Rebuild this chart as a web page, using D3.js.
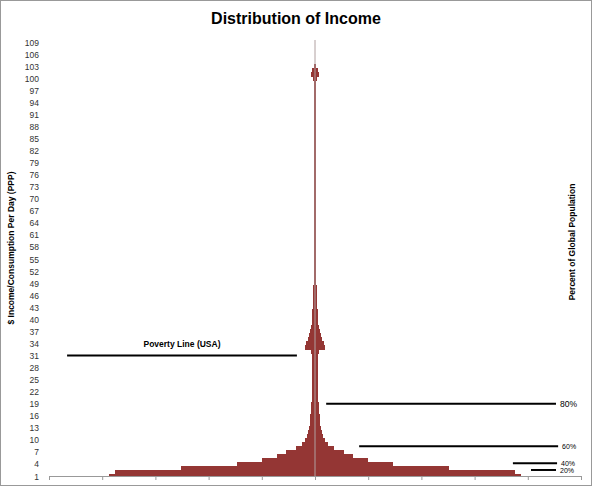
<!DOCTYPE html>
<html><head><meta charset="utf-8">
<script src="https://cdn.jsdelivr.net/npm/d3@7"></script>
<style>body{margin:0;background:#fff}text{font-family:"Liberation Sans",Arial,sans-serif}</style>
</head><body>
<script>
// income level ($/day) categories and share of population (half width, %)
var levels = d3.range(1, 110)
var share = [3.87,3.76,2.52,1.47,1.0,0.71,0.55,0.36,0.25,0.18,
  0.15,0.13,0.11,0.1,0.09,0.085,0.08,0.075,0.07,0.065,
  0.06,0.058,0.056,0.054,0.052,0.05,0.05,0.05,0.05,0.05,
  0.05,0.07,0.19,0.17,0.14,0.12,0.09,0.075,0.065,0.058,
  0.052,0.048,0.044,0.04,0.038,0.035,0.032,0.03,0.028,0.026,
  0.025,0.025,0.024,0.024,0.023,0.023,0.022,0.022,0.021,0.021,
  0.02,0.02,0.02,0.019,0.019,0.018,0.018,0.017,0.017,0.016,
  0.015,0.015,0.015,0.015,0.014,0.014,0.014,0.014,0.013,0.013,
  0.013,0.013,0.013,0.012,0.012,0.012,0.012,0.012,0.012,0.012,
  0.012,0.012,0.012,0.012,0.012,0.012,0.012,0.014,0.02,0.04,
  0.07,0.05,0.015,0,0,0,0,0,0]
var yTicks = d3.range(1, 110, 3)
// annotation lines: [label, y value, x from, x to]
var notes = [
  {label:"Poverty Line (USA)", y:31, x0:-4.66, x1:-0.34},
  {label:"80%", y:19, x0:0.21, x1:4.53},
  {label:"60%", y:8.4, x0:0.83, x1:4.57},
  {label:"40%", y:4.2, x0:3.72, x1:4.55},
  {label:"20%", y:2.5, x0:4.06, x1:4.53}
]

var width = 592, height = 486
var svg = d3.select("body").append("svg").attr("width", width).attr("height", height)

svg.append("rect").attr("x",0.5).attr("y",0.5).attr("width",width-1).attr("height",height-1)
  .attr("fill","#fff").attr("stroke","#999")

var x = d3.scaleLinear().domain([-5, 5]).range([49, 581])
var y = d3.scaleLinear().domain([1, 109]).range([476, 42])

svg.append("text").attr("x", 296).attr("y", 24).attr("text-anchor","middle")
  .attr("font-size", 16).attr("font-weight","bold").text("Distribution of Income")

// bars
svg.append("g").attr("shape-rendering","crispEdges").selectAll("rect").data(levels).enter().append("rect")
  .attr("x", function(d, i){ return x(-share[i]) })
  .attr("width", function(d, i){ return x(share[i]) - x(-share[i]) })
  .attr("y", function(d){ return y(d + 0.5) })
  .attr("height", function(d){ return Math.min(y(1), y(d - 0.5)) - y(d + 0.5) + 0.6 })
  .attr("fill", "#943634")

// center line
svg.append("line").attr("x1", x(0)).attr("x2", x(0)).attr("y1", y(109.5)).attr("y2", y(1))
  .attr("stroke","#b0a0a0").attr("stroke-width",1)

// y tick labels
svg.append("g").selectAll("text").data(yTicks).enter().append("text")
  .attr("x", 39).attr("y", function(d){ return y(d) + 3.5 })
  .attr("text-anchor","end").attr("font-size", 8.5).attr("fill","#333").text(function(d){ return d })

// bottom axis
var xAxis = svg.append("g").attr("transform","translate(0," + y(1) + ")")
  .call(d3.axisBottom(x).ticks(10).tickSize(4).tickFormat(""))
xAxis.selectAll("path,line").attr("stroke","#999")

// annotations
var ng = svg.append("g").selectAll("g").data(notes).enter().append("g")
ng.append("line").attr("x1", function(d){ return x(d.x0) }).attr("x2", function(d){ return x(d.x1) })
  .attr("y1", function(d){ return y(d.y) }).attr("y2", function(d){ return y(d.y) })
  .attr("stroke","#000").attr("stroke-width",2)
ng.append("text")
  .attr("x", function(d, i){ return i === 0 ? (x(d.x0) + x(d.x1)) / 2 : x(d.x1) + 4 })
  .attr("y", function(d, i){ return i === 0 ? y(d.y) - 8 : y(d.y) + 3 })
  .attr("text-anchor", function(d, i){ return i === 0 ? "middle" : "start" })
  .attr("font-size", function(d, i){ return i === 0 ? 8.5 : (i === 1 ? 8.5 : 7) })
  .attr("font-weight", function(d, i){ return i === 0 ? "bold" : "normal" })
  .text(function(d){ return d.label })

svg.append("text").attr("transform","translate(14,248) rotate(-90)").attr("text-anchor","middle")
  .attr("font-size", 8.5).attr("font-weight","bold").text("$ Income/Consumption Per Day (PPP)")
svg.append("text").attr("transform","translate(575,242) rotate(-90)").attr("text-anchor","middle")
  .attr("font-size", 8.5).attr("font-weight","bold").text("Percent of Global Population")
</script>
</body></html>
